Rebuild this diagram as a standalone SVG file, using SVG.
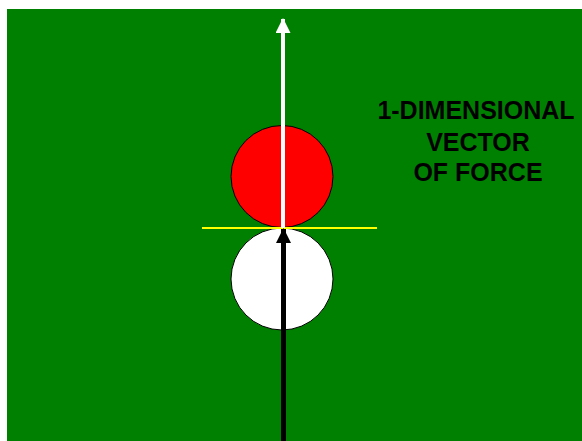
<svg xmlns="http://www.w3.org/2000/svg" width="582" height="441" viewBox="0 0 582 441">
<style>
.lbl{font-family:"Liberation Sans",Arial,sans-serif;font-weight:bold;font-size:25px;fill:#000;text-anchor:middle}
.ball{stroke:#000;stroke-width:1}
</style>
<defs>
<marker id="ahW" markerUnits="userSpaceOnUse" markerWidth="16" markerHeight="16" refX="14" refY="7.5" orient="auto">
<path d="M0,0 L15,7.5 L0,15 Z" fill="#fff"/>
</marker>
<marker id="ahB" markerUnits="userSpaceOnUse" markerWidth="16" markerHeight="16" refX="14" refY="7.5" orient="auto">
<path d="M0,0 L15,7.5 L0,15 Z" fill="#000"/>
</marker>
</defs>
<rect x="0" y="0" width="582" height="441" fill="#fff"/>
<rect id="field" x="7" y="9" width="576" height="433" fill="#008000"/>
<g id="redball"><circle class="ball" cx="282" cy="176.5" r="51" fill="#ff0000"/></g>
<g id="whiteball"><circle class="ball" cx="282" cy="279" r="51" fill="#ffffff"/></g>
<g id="connectors">
<line id="contact" x1="202" y1="228" x2="377" y2="228" stroke="#ffff00" stroke-width="2"/>
<line id="force-up" x1="283" y1="228" x2="283" y2="19" stroke="#fff" stroke-width="4" marker-end="url(#ahW)"/>
<line id="force-in" x1="283.5" y1="441" x2="283.5" y2="229" stroke="#000" stroke-width="5" marker-end="url(#ahB)"/>
</g>
<g id="label">
<text class="lbl" x="476" y="118.5">1-DIMENSIONAL</text>
<text class="lbl" x="478" y="151">VECTOR</text>
<text class="lbl" x="478" y="181">OF FORCE</text>
</g>
</svg>
